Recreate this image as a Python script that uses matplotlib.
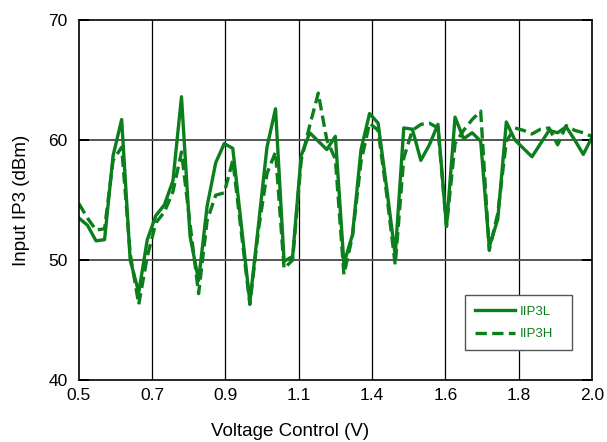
import numpy as np
import matplotlib.pyplot as plt

# control voltage sweep, 25 mV steps
volts = np.arange(61) * 0.025 + 0.5

iip3_low = [53.5, 52.9, 51.6, 51.7, 58.7, 61.7, 50.0, 47.3, 51.7, 53.7,
            54.6, 56.6, 63.6, 52.0, 48.3, 54.5, 58.1, 59.7, 59.3, 52.9,
            46.5, 52.9, 59.4, 62.6, 49.9, 50.3, 58.7, 60.6, 59.9, 59.2,
            60.3, 49.7, 52.1, 59.2, 62.2, 61.4, 56.0, 50.4, 61.0, 60.9,
            58.3, 59.6, 61.3, 52.8, 61.9, 60.1, 60.6, 59.9, 51.1, 53.4,
            61.5, 60.0, 59.3, 58.6, 59.7, 60.8, 60.6, 61.1, 60.0, 58.8,
            60.2]

iip3_high = [54.7, 53.5, 52.5, 52.6, 58.3, 59.4, 50.5, 46.3, 50.3, 53.1,
             54.0, 55.7, 59.0, 53.0, 47.2, 53.3, 55.4, 55.6, 58.3, 52.3,
             46.3, 52.5, 57.2, 59.0, 49.3, 50.0, 58.3, 61.2, 63.9, 60.0,
             58.4, 48.8, 52.0, 58.2, 61.4, 60.8, 55.5, 49.6, 58.5, 60.8,
             61.3, 61.4, 61.0, 52.8, 59.7, 60.8, 61.7, 62.4, 50.8, 53.9,
             59.9, 61.0, 60.8, 60.5, 60.9, 61.0, 59.6, 61.2, 60.8, 60.6,
             60.3]

xtick_labels = ["0.5", "0.7", "0.9", "1.1", "1.4", "1.6", "1.8", "2.0"]
yticks = [40, 50, 60, 70]

GREEN = "#0a7f1c"
plt.rcParams["font.family"] = ["Liberation Sans", "DejaVu Sans"]

fig = plt.figure(figsize=(6.07, 4.42), dpi=100)
ax = fig.add_axes([0.130, 0.140, 0.845, 0.815])

ax.plot(volts, iip3_low, color=GREEN, lw=2.4, label="IIP3L")
ax.plot(volts, iip3_high, color=GREEN, lw=2.4, ls=(0, (3.4, 1.6)), label="IIP3H")

ax.set_xlim(0.5, 2.0)
ax.set_ylim(40, 70)
xt = np.linspace(0.5, 2.0, len(xtick_labels))
ax.set_xticks(xt)
ax.set_xticklabels(xtick_labels)
ax.set_yticks(yticks)

for x in xt[1:-1]:
    ax.axvline(x, color="black", lw=0.9, zorder=0)
for y in yticks[1:-1]:
    ax.axhline(y, color="#555555", lw=1.4, zorder=0)

ax.tick_params(axis="y", direction="in", length=7, width=1.4, right=True,
               labelsize=12.5, pad=8)
ax.tick_params(axis="x", length=0, labelsize=12.5, pad=6)
for s in ax.spines.values():
    s.set_linewidth(1.2)

ax.set_xlabel("Voltage Control (V)", fontsize=13.5)
ax.xaxis.set_label_coords(0.411, -0.118)
ax.set_ylabel("Input IP3 (dBm)", fontsize=13.5)
ax.yaxis.set_label_coords(-0.095, 0.5)

leg = ax.legend(loc="lower left", bbox_to_anchor=(0.752, 0.083, 0.209, 0.148),
                mode="expand", fancybox=False, framealpha=1, edgecolor="#555555",
                fontsize=9.5, handlelength=3.1, handletextpad=0.35,
                borderaxespad=0, borderpad=0.75, labelspacing=0.8)
leg.get_frame().set_linewidth(1.0)
for t in leg.get_texts():
    t.set_color(GREEN)

fig.savefig("out.png", dpi=100)
